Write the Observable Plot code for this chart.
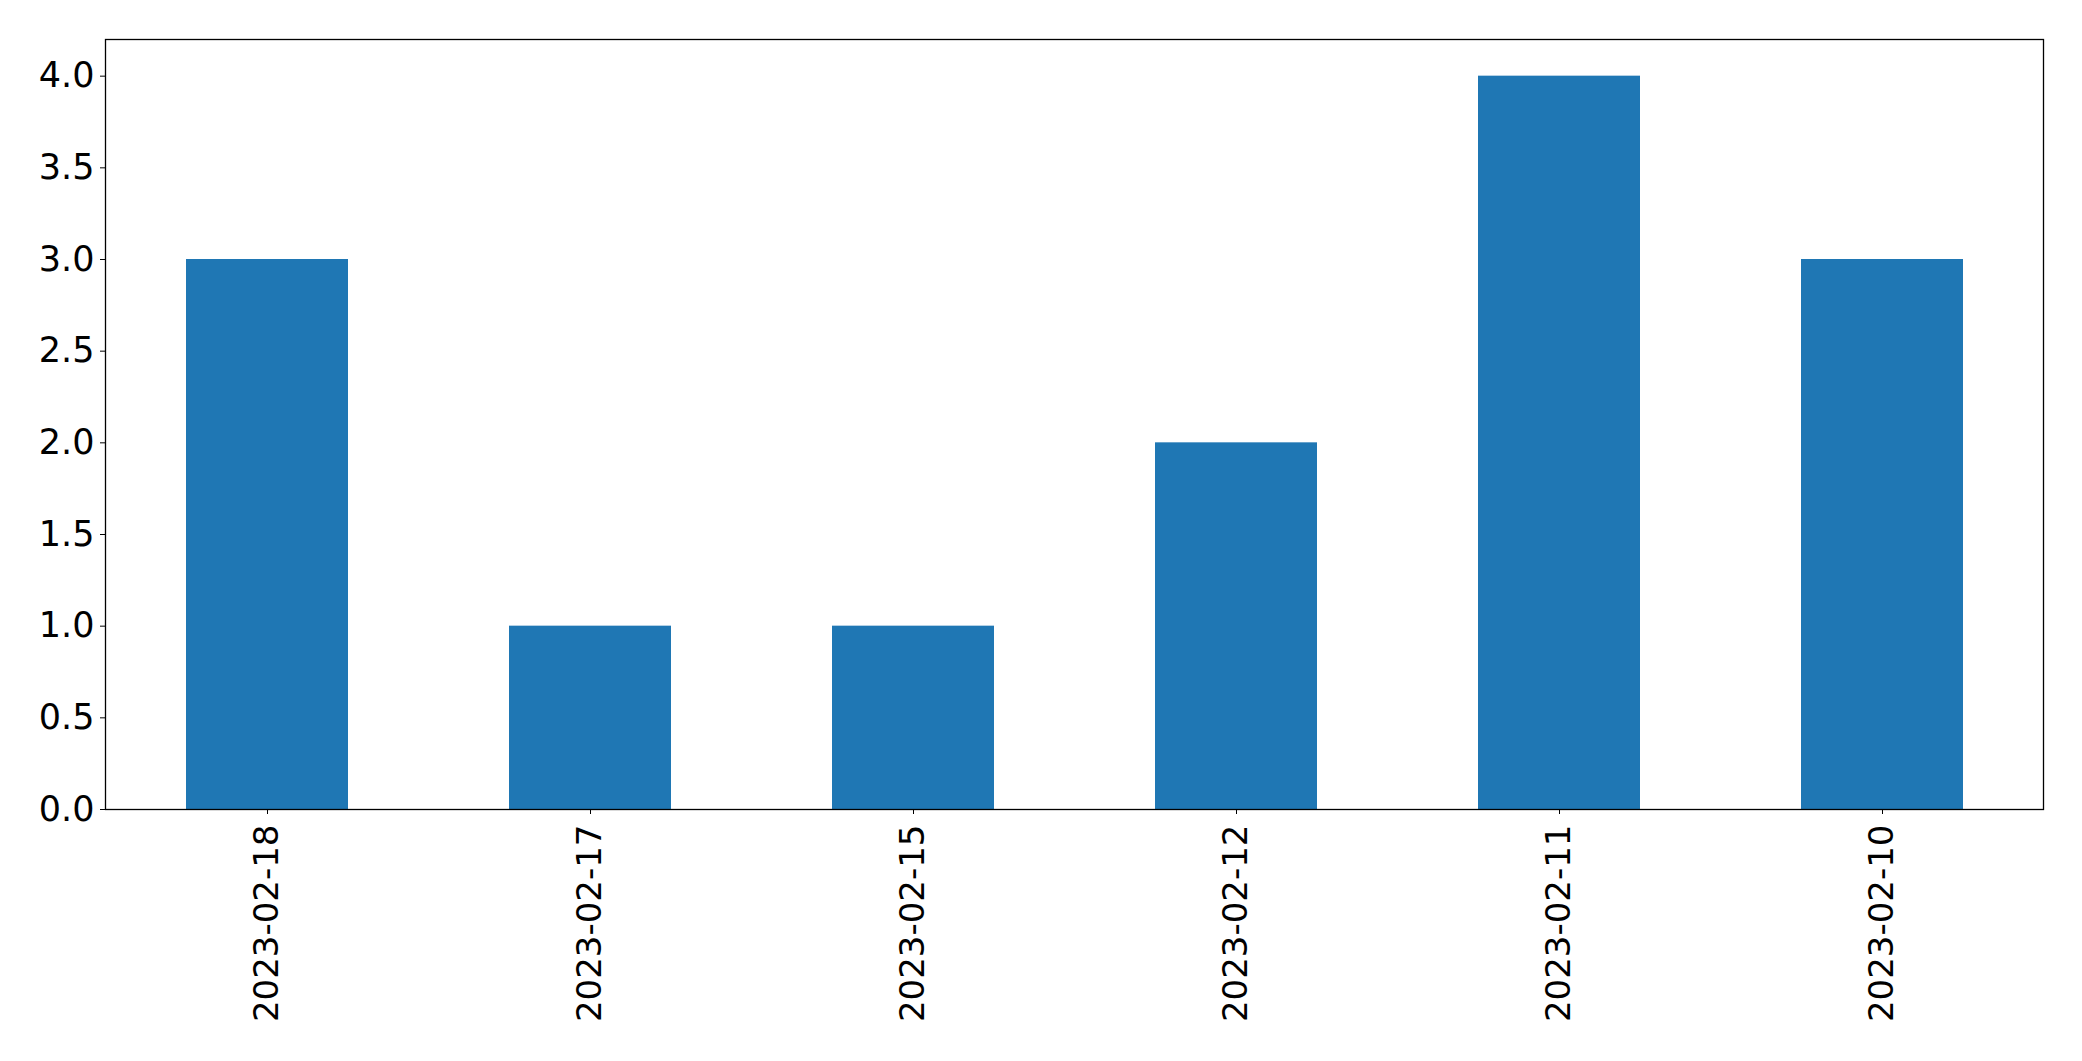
<!DOCTYPE html>
<html>
<head>
<meta charset="utf-8">
<script src="https://cdn.jsdelivr.net/npm/d3@7"></script>
<script src="https://cdn.jsdelivr.net/npm/@observablehq/plot@0.6"></script>
<style>
  html, body { margin: 0; padding: 0; background: #fff; }
  #chart svg { display: block; }
</style>
</head>
<body>
<div id="chart"></div>
<script>
const dates = ["2023-02-18", "2023-02-17", "2023-02-15", "2023-02-12", "2023-02-11", "2023-02-10"];
const counts = [3, 1, 1, 2, 4, 3];
const yTicks = [0, 0.5, 1, 1.5, 2, 2.5, 3, 3.5, 4];

const data = dates.map((d, i) => ({date: d, count: counts[i]}));

const chart = Plot.plot({
  width: 2082,
  height: 1061,
  marginLeft: 105,
  marginRight: 39,
  marginTop: 39,
  marginBottom: 252,
  style: {fontFamily: "DejaVu Sans", fontSize: "34px", color: "#000", background: "#fff"},
  x: {domain: dates, paddingInner: 0.5, paddingOuter: 0.25, label: null},
  y: {domain: [0, 4.2], label: null},
  marks: [
    Plot.barY(data, {x: "date", y: "count", fill: "#1f77b4"}),
    Plot.frame({stroke: "#000", strokeWidth: 1.3}),
    Plot.axisY({ticks: yTicks, tickFormat: d3.format(".1f"), tickSize: 5, tickPadding: 6, fontSize: 35, label: null}),
    Plot.axisX({tickRotate: -90, tickSize: 5, tickPadding: 10, fontSize: 34, label: null})
  ]
});
document.getElementById("chart").appendChild(chart);
</script>
</body>
</html>
